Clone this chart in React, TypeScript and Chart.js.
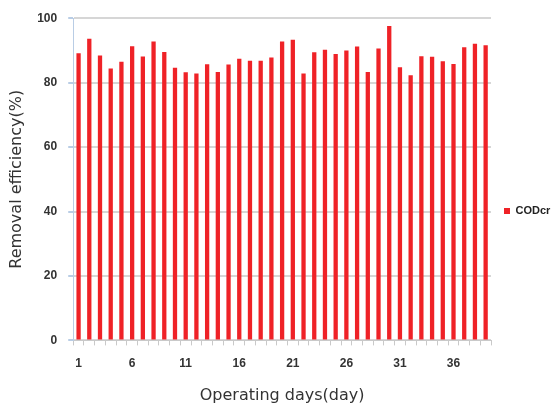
import React, { useEffect, useRef } from "react";
import { Chart, registerables } from "chart.js";

Chart.register(...registerables);

const days: string[] = Array.from({ length: 39 }, (_, i) => String(i + 1));
const codcr: number[] = [
  89.1, 93.6, 88.4, 84.4, 86.5, 91.3, 88.1, 92.8, 89.5, 84.6,
  83.2, 82.8, 85.7, 83.3, 85.6, 87.4, 86.8, 86.8, 87.8, 92.8,
  93.3, 82.8, 89.4, 90.2, 88.9, 90.0, 91.2, 83.3, 90.6, 97.6,
  84.8, 82.3, 88.2, 88.0, 86.6, 85.8, 91.0, 92.1, 91.6,
];
const seriesName = "CODcr";
const xTitle = "Operating days(day)";
const yTitle = "Removal efficiency(%)";

export default function App() {
  const ref = useRef<HTMLCanvasElement | null>(null);
  useEffect(() => {
    if (!ref.current) return;
    const chart = new Chart(ref.current, {
      type: "bar",
      data: {
        labels: days,
        datasets: [
          {
            label: seriesName,
            data: codcr,
            backgroundColor: "#ef2227",
            borderWidth: 0,
            categoryPercentage: 1,
            barPercentage: 0.4,
          },
        ],
      },
      options: {
        responsive: false,
        animation: false,
        layout: { padding: { top: 16, left: 7, right: 0, bottom: 0 } },
        plugins: {
          tooltip: { enabled: false },
          legend: {
            position: "right",
            maxWidth: 60,
            labels: {
              boxWidth: 6,
              boxHeight: 6,
              padding: 13,
              color: "#222",
              font: { family: "'Liberation Sans', Arial, sans-serif", size: 11, weight: "bold" },
            },
          },
        },
        scales: {
          x: {
            offset: true,
            grid: {
              offset: true,
              drawOnChartArea: false,
              drawTicks: true,
              tickLength: 5,
              tickColor: "#c9c9c9",
            },
            border: { color: "#c9c9c9", width: 1 },
            ticks: {
              autoSkip: false,
              maxRotation: 0,
              padding: 11,
              color: "#333",
              font: { family: "'Liberation Sans', Arial, sans-serif", size: 12, weight: "bold" },
              callback: (_v: any, i: number) => (i % 5 === 0 ? days[i] : ""),
            },
            title: {
              display: true,
              text: xTitle,
              color: "#333",
              font: { family: "'DejaVu Sans', sans-serif", size: 16 },
              padding: { top: 4, bottom: 1 },
            },
          },
          y: {
            min: 0,
            max: 100,
            ticks: {
              stepSize: 20,
              padding: 11,
              color: "#333",
              font: { family: "'Liberation Sans', Arial, sans-serif", size: 12, weight: "bold" },
            },
            grid: {
              color: "#d6d6d6",
              lineWidth: 2,
              tickLength: 5,
              tickColor: "#b9cde5",
            },
            border: { color: "#b9cde5", width: 1 },
            title: {
              display: true,
              text: yTitle,
              color: "#333",
              font: { family: "'DejaVu Sans', sans-serif", size: 16 },
              padding: { top: 0, bottom: 0 },
            },
          },
        },
      },
    });
    return () => chart.destroy();
  }, []);
  return (
    <div style={{ position: "absolute", left: 0, top: 0, width: 551, height: 406, background: "#fff" }}>
      <canvas ref={ref} width={551} height={406} />
    </div>
  );
}
